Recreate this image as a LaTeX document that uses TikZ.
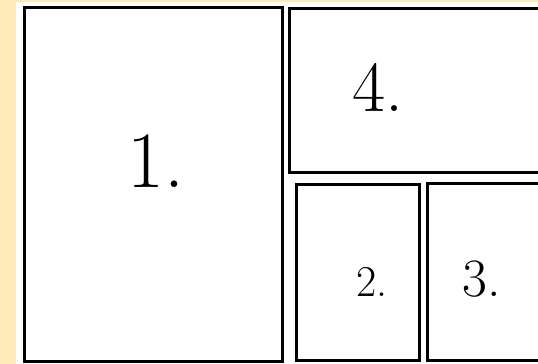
\documentclass[tikz,border=0pt]{standalone}
\definecolor{paper}{HTML}{FFE9B8}
\tikzset{
  panel/.style={draw=black, line width=3pt, fill=white},
  numlabel/.style={anchor=base, inner sep=0pt},
}
\begin{document}
\begin{tikzpicture}[x=1pt,y=-1pt]
\useasboundingbox (0,0) rectangle (538,364);
\clip (0,0) rectangle (538,364);
\fill[paper] (0,0) rectangle (538,364);
\fill[white] (16,2) rectangle (545,370);
% panels
\node[panel, minimum width=258pt, minimum height=354pt, inner sep=0pt] (p1) at (153.5,184) {};
\draw[panel] (289,8.7) rectangle (560,172.8);
\node[panel, minimum width=122.6pt, minimum height=176.7pt, inner sep=0pt] (p2) at (358,272.6) {};
\draw[panel] (427.3,183) rectangle (560,360.3);
% labels
\node[numlabel, font=\fontsize{80}{80}\selectfont] (t1) at (156,187) {1.};
\node[numlabel, font=\fontsize{72}{72}\selectfont] (t4) at (378,111) {4.};
\node[numlabel, font=\fontsize{44}{44}\selectfont] (t2) at (372,296) {2.};
\node[numlabel, font=\fontsize{54}{54}\selectfont] (t3) at (482,296) {3.};
\end{tikzpicture}
\end{document}
